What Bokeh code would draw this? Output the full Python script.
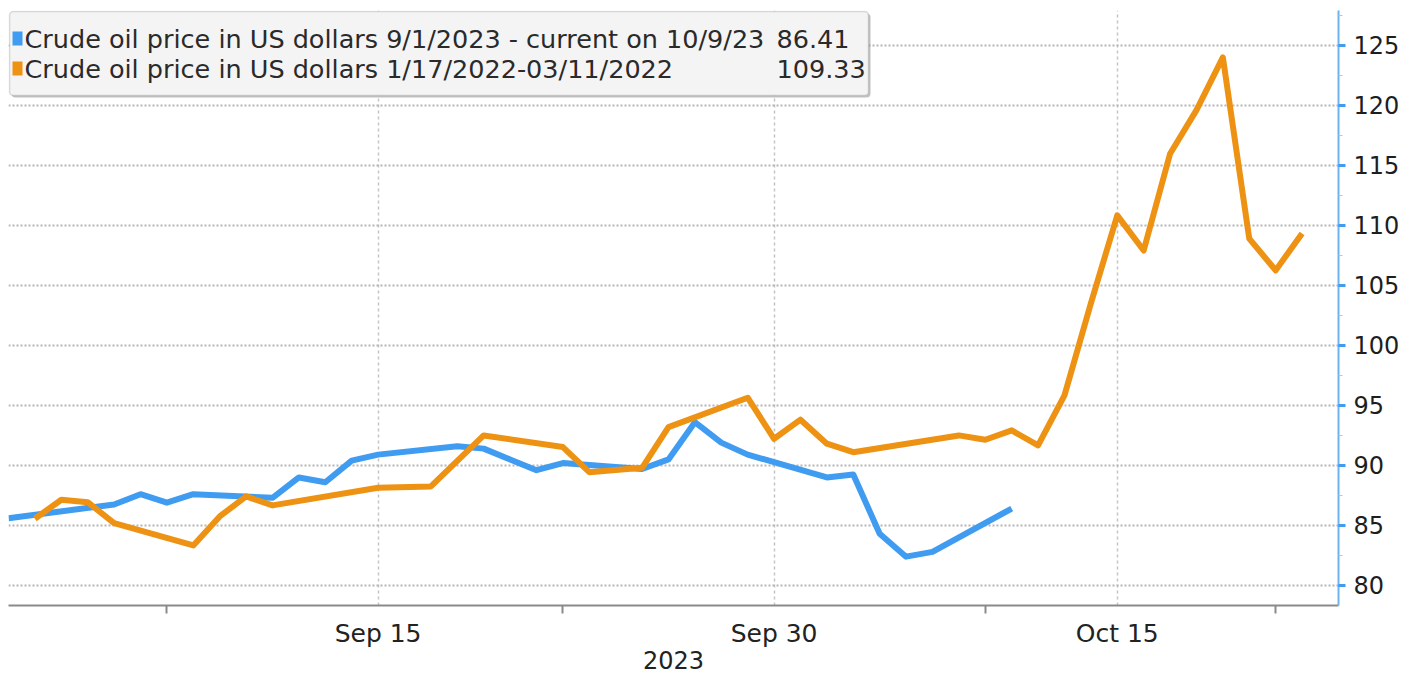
from datetime import date
from bokeh.plotting import figure
from bokeh.models import FixedTicker, BoxAnnotation, Label, Range1d
from bokeh.embed import file_html
from bokeh.resources import INLINE

# ---------------- data ----------------
blue_dates = ["2023-09-01", "2023-09-05", "2023-09-06", "2023-09-07", "2023-09-08",
              "2023-09-11", "2023-09-12", "2023-09-13", "2023-09-14", "2023-09-15",
              "2023-09-18", "2023-09-19", "2023-09-20", "2023-09-21", "2023-09-22",
              "2023-09-25", "2023-09-26", "2023-09-27", "2023-09-28", "2023-09-29",
              "2023-10-02", "2023-10-03", "2023-10-04", "2023-10-05", "2023-10-06",
              "2023-10-09"]
blue_values = [85.6, 86.75, 87.6, 86.9, 87.6,
               87.3, 89.0, 88.6, 90.4, 90.9,
               91.6, 91.4, 90.5, 89.6, 90.2,
               89.7, 90.5, 93.6, 91.9, 90.9,
               89.0, 89.25, 84.3, 82.4, 82.8,
               86.41]

# orange series (1/17/2022-03/11/2022) positioned in days after Sep 1 on the shared axis
orange_days = [1, 2, 3, 4, 7, 8, 9, 10, 14, 16, 18, 21, 22, 24, 25, 28, 29, 30, 31, 32,
               36, 37, 38, 39, 40, 41, 42, 43, 44, 45, 46, 47, 48, 49]
orange_values = [85.56, 87.14, 86.94, 85.19, 83.33, 85.75, 87.42, 86.67, 88.14, 88.25,
                 92.5, 91.53, 89.44, 89.8, 93.19, 95.64, 92.22, 93.81, 91.81, 91.1,
                 92.5, 92.14, 92.92, 91.67, 95.83, 103.5, 110.83, 107.9, 115.97, 119.6,
                 124.0, 108.9, 106.25, 109.33]

x_tick_days = [14, 29, 42]
x_tick_labels = ["Sep 15", "Sep 30", "Oct 15"]
x_minor_days = [6, 21, 37, 48]
y_ticks = [80, 85, 90, 95, 100, 105, 110, 115, 120, 125]
y_minor = [82.5, 87.5, 92.5, 97.5, 102.5, 107.5, 112.5, 117.5, 122.5, 127.5]

legend_names = ["Crude oil price in US dollars 9/1/2023 - current on 10/9/23",
                "Crude oil price in US dollars 1/17/2022-03/11/2022"]
legend_values = ["86.41", "109.33"]
year_label = "2023"

# ---------------- layout ----------------
BLUE = "#3f9cf0"
ORANGE = "#ee9213"
FONT = "DejaVu Sans"

start = date(2023, 9, 1)
blue_x = [(date.fromisoformat(d) - start).days for d in blue_dates]

X0, X1 = 0.0, 50.38
Y0, Y1 = 78.33, 127.9
FL, FR, FT, FB = 8, 1338, 10, 605


def dx(px):
    return X0 + (px - FL) / (FR - FL) * (X1 - X0)


def dy(py):
    return Y0 + (FB - py) / (FB - FT) * (Y1 - Y0)


p = figure(width=1418, height=677, output_backend="svg", toolbar_location=None,
           x_range=Range1d(X0, X1), y_range=Range1d(Y0, Y1),
           y_axis_location="right",
           min_border_left=FL, min_border_right=1418 - FR,
           min_border_top=FT, min_border_bottom=677 - FB)
p.outline_line_color = None
p.background_fill_color = "white"
p.border_fill_color = "white"

# x axis
xt = FixedTicker(ticks=x_tick_days, minor_ticks=x_minor_days)
xa = p.xaxis[0]
xa.ticker = xt
xa.major_label_overrides = {d: l for d, l in zip(x_tick_days, x_tick_labels)}
xa.axis_line_color = "#8a8a8a"
xa.axis_line_width = 2
xa.major_tick_out = 0
xa.major_tick_in = 0
xa.minor_tick_out = 8
xa.minor_tick_in = 0
xa.minor_tick_line_color = "#8a8a8a"
xa.minor_tick_line_width = 2
xa.major_label_text_font = FONT
xa.major_label_text_font_size = "25px"
xa.major_label_text_color = "#222222"
xa.major_label_standoff = 5
xa.axis_label = year_label
xa.axis_label_text_font = FONT
xa.axis_label_text_font_size = "24px"
xa.axis_label_text_font_style = "normal"
xa.axis_label_text_color = "#222222"
xa.axis_label_standoff = 0

# y axis (right)
yt = FixedTicker(ticks=y_ticks, minor_ticks=y_minor)
ya = p.yaxis[0]
ya.ticker = yt
ya.axis_line_color = "#6db3f2"
ya.axis_line_width = 2
ya.major_tick_out = 7
ya.major_tick_in = 0
ya.major_tick_line_color = "#3f9cf0"
ya.major_tick_line_width = 3
ya.minor_tick_out = 4
ya.minor_tick_in = 0
ya.minor_tick_line_color = "#9ccbf5"
ya.minor_tick_line_width = 1
ya.major_label_text_font = FONT
ya.major_label_text_font_size = "24px"
ya.major_label_text_color = "#1e1e1e"
ya.major_label_standoff = 8

# grids
p.xgrid.ticker = xt
p.xgrid.grid_line_color = "#c4c4c4"
p.xgrid.grid_line_dash = "3 3"
p.xgrid.grid_line_width = 1.5
p.ygrid.ticker = yt
p.ygrid.grid_line_color = "#b5b5b5"
p.ygrid.grid_line_dash = "2 2"
p.ygrid.grid_line_width = 2

# lines
p.line(blue_x, blue_values, line_color=BLUE, line_width=6, line_join="round")
p.line(orange_days, orange_values, line_color=ORANGE, line_width=6, line_join="round")

# legend box (with a soft shadow)
p.add_layout(BoxAnnotation(left=dx(11), right=dx(870), top=dy(13), bottom=dy(97),
                           fill_color="#9a9a9a", fill_alpha=0.6,
                           line_color=None, border_radius=4))
p.add_layout(BoxAnnotation(left=dx(9), right=dx(868), top=dy(11), bottom=dy(95),
                           fill_color="#f4f4f4", fill_alpha=1.0,
                           line_color="#8a8a8a", line_width=1.5, border_radius=4))
rows_y = [38, 68]
for (name, val, col, ry) in zip(legend_names, legend_values, [BLUE, ORANGE], rows_y):
    p.add_layout(BoxAnnotation(left=dx(12), right=dx(22), top=dy(ry - 7), bottom=dy(ry + 7),
                               fill_color=col, fill_alpha=1.0, line_color=None))
    p.add_layout(Label(x=dx(24), y=dy(ry), text=name, text_baseline="middle",
                       text_font=FONT, text_font_size="25.5px", text_color="#2a2a2a"))
    p.add_layout(Label(x=dx(776), y=dy(ry), text=val, text_baseline="middle",
                       text_font=FONT, text_font_size="25.5px", text_color="#2a2a2a"))

open("out.html", "w").write(file_html(p, INLINE))
